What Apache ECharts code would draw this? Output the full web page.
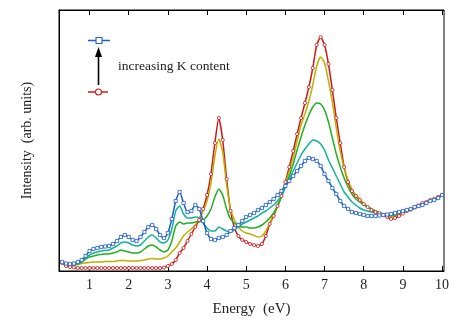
<!DOCTYPE html>
<html>
<head>
<meta charset="utf-8">
<script src="https://cdn.jsdelivr.net/npm/echarts@6/dist/echarts.min.js"></script>
<style>
  html, body { margin: 0; padding: 0; background: #fff; }
  #chart { width: 456px; height: 322px; }
</style>
</head>
<body>
<div id="chart"></div>
<script>
// energy grid (eV)
const energy = [
  0.3,0.4,0.5,0.6,0.7,0.8,0.9,1.0,1.1,1.2,1.3,1.4,1.5,1.6,1.7,1.8,1.9,2.0,2.1,2.2,
  2.3,2.4,2.5,2.6,2.7,2.8,2.9,3.0,3.1,3.2,3.3,3.4,3.5,3.6,3.7,3.8,3.9,4.0,4.1,4.2,
  4.3,4.4,4.5,4.6,4.7,4.8,4.9,5.0,5.1,5.2,5.3,5.4,5.5,5.6,5.7,5.8,5.9,6.0,6.1,6.2,
  6.3,6.4,6.5,6.6,6.7,6.8,6.9,7.0,7.1,7.2,7.3,7.4,7.5,7.6,7.7,7.8,7.9,8.0,8.1,8.2,
  8.3,8.4,8.5,8.6,8.7,8.8,8.9,9.0,9.1,9.2,9.3,9.4,9.5,9.6,9.7,9.8,9.9,10.0
];

// intensities, arb. units (highest K content first)
const blue = [
  9,7.5,7,7.5,9,11,15,20,22,23,24,24.5,25,27,30,34,36,34,31,30,
  34,39,44,46,42,36,33,38,52,70,79,68,59,60,66,62,50,38,32,31,
  33,34,36,40,43,46,50,54,56,58,61,63,66,69,72,76,80,85,90,95,
  100,105,110,113,112,110,105,97,90,83,77,70,65,62,59,58,57,56,55,55,
  55,55.5,56,56.5,57,58,59,60,61,62,64,65,66,68,70,71,73,76
];
const teal = [
  9,7.5,6.5,6.5,7.5,9,13,16,18,19,20,20.5,21,23,25,28,29,28,26,25,
  26,30,34,36,33,29,28,31,42,60,65,57,53,53,54,53,48,43,40,40,
  44,42,40,39,41,44,47,49,51,53,55,58,60,63,66,70,76,84,92,100,
  108,116,122,127,131,130,127,121,111,103,95,87,79,74,69,66,63,61,60,59,
  58,57,56.5,56,56,56.5,57.5,59,60.5,62,63.5,65,66.5,68,70,71.5,73,75.5
];
const green = [
  9,7,6,6,7,9,12,14,15,16,16.5,17,17,18,19,21,20,19,18,18,
  19,22,25,26,24,21,19,21,30,45,49,47,48,48,49,49,51,55,62,74,
  82,76,62,52,48,45,44,44,43,43,44,46,49,53,58,65,74,84,95,107,
  121,134,146,156,164,168,167,161,149,133,117,104,93,84,77,72,69,66,64,62,
  60,58,57,56,55.5,56,57,58.5,60,61.5,63,65,66.5,68,70,71.5,73,76
];
const olive = [
  8,6.5,6,6,6.5,7.5,8,8.5,9,9,9,9.5,9.5,9.5,10,10.5,10.5,10,10,10,
  10.5,11,12,12.5,12,12,13,15,19,23,29,35,39,42,46,53,60,70,88,115,
  132,119,86,62,51,44,40,38,37,35.5,34,35,40,48,57,65,75,87,100,114,
  130,146,157,170,186,205,214,208,190,169,143,120,103,91,82,76,72,68,64,62,
  60,58,57,55.5,54.5,55,56.5,58,59.5,61,63,65,66.5,68,70,72,74,76
];
const red = [
  8,5,4,3.5,3,3,3,3,3,3,3,3,3,3,3,3,3,3,3,3,
  3,3,3,3,3,3,3.5,5,7,11,18,23,30,37,44,51,62,76,97,128,
  153,131,92,60,43,35,31,29,27,26,25,27,35,47,55,65,75,89,104,120,
  137,153,168,184,203,226,234,226,207,181,153,128,104,89,80,75,71,67,64,61,
  59,58,56,54,52,53,55,57.5,60,61.5,63.5,65.5,68,69,71,72,74,76
];

const xTicks = [1, 2, 3, 4, 5, 6, 7, 8, 9, 10];
const legendText = 'increasing K content';

const serif = '"Liberation Serif", "DejaVu Serif", serif';

function pairs(vals) {
  return energy.map((e, i) => [e, vals[i]]);
}

function lineSeries(name, vals, color, symbol) {
  return {
    name: name,
    type: 'line',
    data: pairs(vals),
    smooth: 0.2,
    lineStyle: { color: color, width: 1.5 },
    itemStyle: { color: '#fff', borderColor: color, borderWidth: 0.8 },
    symbol: symbol || 'none',
    symbolSize: 3.2,
    showAllSymbol: true,
    z: 2
  };
}

const chart = echarts.init(document.getElementById('chart'), null, { renderer: 'canvas' });

const tickFmt = v => (xTicks.indexOf(v) >= 0 ? String(v) : '');

const option = {
  animation: false,
  backgroundColor: '#fff',
  grid: {
    left: 59, right: 12, top: 10, bottom: 51,
    show: true, borderColor: '#000', borderWidth: 1, backgroundColor: 'transparent'
  },
  xAxis: [
    {
      type: 'value', min: 0.22, max: 10.05, interval: 1,
      name: 'Energy  (eV)', nameLocation: 'middle', nameGap: 31,
      nameTextStyle: { fontFamily: serif, fontSize: 15, color: '#222' },
      axisLine: { show: true, onZero: false, lineStyle: { color: '#000', width: 1 } },
      axisTick: { show: true, inside: true, length: 5, lineStyle: { color: '#000' },
        customValues: xTicks },
      axisLabel: { fontFamily: serif, fontSize: 14, color: '#222', margin: 7,
        customValues: xTicks, formatter: tickFmt },
      splitLine: { show: false }
    },
    {
      type: 'value', position: 'top', min: 0.22, max: 10.05,
      axisLine: { show: true, onZero: false, lineStyle: { color: '#000', width: 1 } },
      axisTick: { show: true, inside: true, length: 5, lineStyle: { color: '#000' },
        customValues: xTicks },
      axisLabel: { show: false },
      splitLine: { show: false }
    }
  ],
  yAxis: {
    type: 'value', min: 0, max: 261,
    name: 'Intensity  (arb. units)', nameLocation: 'middle', nameGap: 25,
    nameTextStyle: { fontFamily: serif, fontSize: 14, color: '#222' },
    axisLine: { show: true, lineStyle: { color: '#000' } },
    axisTick: { show: false },
    axisLabel: { show: false },
    splitLine: { show: false }
  },
  series: [
    lineSeries('red', red, '#cc1a1a', 'circle'),
    lineSeries('olive', olive, '#bfb000'),
    lineSeries('green', green, '#22b022'),
    lineSeries('teal', teal, '#12b39a'),
    lineSeries('blue', blue, '#1f5ec6', 'rect')
  ],
  graphic: [
    { type: 'line', shape: { x1: 88, y1: 40.5, x2: 110, y2: 40.5 },
      style: { stroke: '#1f5ec6', lineWidth: 1.5 } },
    { type: 'rect', shape: { x: 96, y: 37.5, width: 6, height: 6 },
      style: { fill: '#fff', stroke: '#1f5ec6', lineWidth: 1.1 } },
    { type: 'line', shape: { x1: 98.5, y1: 85, x2: 98.5, y2: 55 },
      style: { stroke: '#000', lineWidth: 1.6 } },
    { type: 'polygon', shape: { points: [[98.5, 47], [95, 57], [102, 57]] },
      style: { fill: '#000' } },
    { type: 'text', x: 118, y: 66,
      style: { text: legendText, fontFamily: serif, fontSize: 13.5, fill: '#222',
        align: 'left', verticalAlign: 'middle' } },
    { type: 'line', shape: { x1: 88, y1: 92, x2: 108, y2: 92 },
      style: { stroke: '#cc1a1a', lineWidth: 1.5 } },
    { type: 'circle', shape: { cx: 98.5, cy: 92, r: 3 },
      style: { fill: '#fff', stroke: '#cc1a1a', lineWidth: 1.1 } }
  ]
};

chart.setOption(option);
</script>
</body>
</html>
